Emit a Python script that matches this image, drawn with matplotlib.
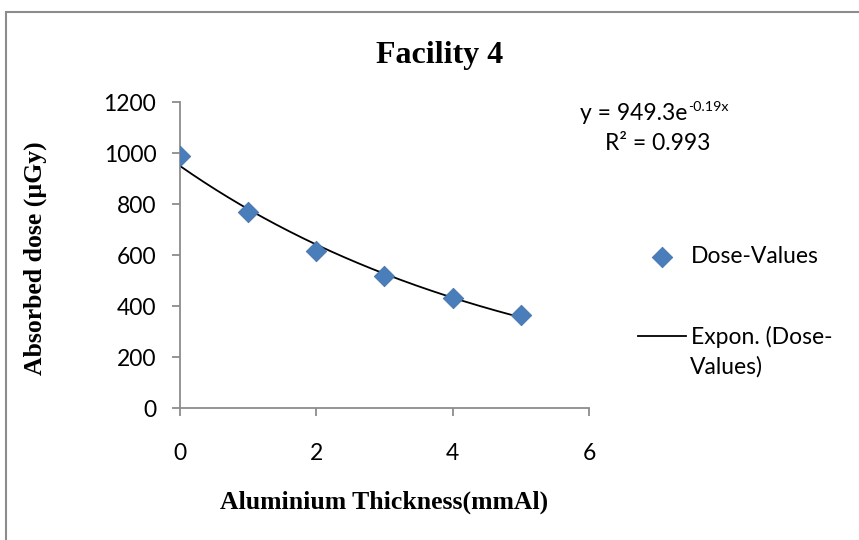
import numpy as np
import matplotlib
matplotlib.use('Agg')
import matplotlib.pyplot as plt
from matplotlib.patches import Rectangle

# Данные: толщина алюминия и поглощённая доза
thickness = [0, 1, 2, 3, 4, 5]
dose = [990, 768, 617, 518, 432, 366]

x_ticks = [0, 2, 4, 6]
y_ticks = [0, 200, 400, 600, 800, 1000, 1200]

# Экспоненциальный тренд по данным
b, ln_a = np.polyfit(thickness, np.log(dose), 1)
xf = np.linspace(0, 5, 200)
yf = np.exp(ln_a) * np.exp(b * xf)

plt.rcParams['font.family'] = ['Lato', 'DejaVu Sans']
fs = 16.5

fig = plt.figure(figsize=(8.59, 5.4), dpi=100)
ax = fig.add_axes([0.2095, 0.2444, 0.4762, 0.5667])

# рамка вокруг диаграммы
fig.patches.append(Rectangle((6 / 859, -0.1), 1.2, 1 - 12 / 540 + 0.1,
                             transform=fig.transFigure, fill=False,
                             edgecolor='#8c8c8c', linewidth=1.5))

ax.scatter(thickness, dose, marker='D', s=110, color='#4a7ebb',
           edgecolor='#3f6fa8', linewidth=0.5, zorder=3, label='Dose-Values')
ax.plot(xf, yf, color='black', linewidth=1.3, zorder=2,
        label='Expon. (Dose-')

ax.set_xlim(0, 6)
ax.set_ylim(0, 1200)
ax.set_xticks(x_ticks)
ax.set_yticks(y_ticks)
for s in ['top', 'right']:
    ax.spines[s].set_visible(False)
for s in ['left', 'bottom']:
    ax.spines[s].set_color('#8c8c8c')
    ax.spines[s].set_linewidth(1.3)
ax.tick_params(colors='#8c8c8c', labelcolor='black', labelsize=fs,
               length=6, width=1.3, direction='out')
ax.tick_params(axis='x', pad=19)
ax.tick_params(axis='y', pad=11)

fig.text(440 / 859, 1 - 55 / 540, 'Facility 4', ha='center', va='center',
         fontfamily='Liberation Serif', fontweight='bold', fontsize=23)
fig.text(35 / 859, 1 - 258 / 540, 'Absorbed dose (µGy)', ha='center',
         va='center', rotation=90, fontfamily='Liberation Serif',
         fontweight='bold', fontsize=18.5)
fig.text(384 / 859, 1 - 502 / 540, 'Aluminium Thickness(mmAl)', ha='center',
         va='center', fontfamily='Liberation Serif', fontweight='bold',
         fontsize=18.5)

eq = fig.text(580 / 859, 1 - 114 / 540, 'y = 949.3e', ha='left',
              va='center', fontsize=fs)
ax.annotate('-0.19x', xy=(1, 1), xycoords=eq, xytext=(0.5, 2),
            textcoords='offset points', ha='left', va='top', fontsize=fs * 0.62)
fig.text(658 / 859, 1 - 143 / 540, 'R² = 0.993', ha='center', va='center',
         fontsize=fs)

fig.legend(loc='upper left', bbox_to_anchor=(0.719, 0.583),
           frameon=False, fontsize=fs, handlelength=2.1,
           handletextpad=0.2, labelspacing=2.6, scatterpoints=1)
fig.text(690 / 859, 1 - 367 / 540, 'Values)', ha='left', va='center',
         fontsize=fs)

plt.savefig('out.png', dpi=100)
